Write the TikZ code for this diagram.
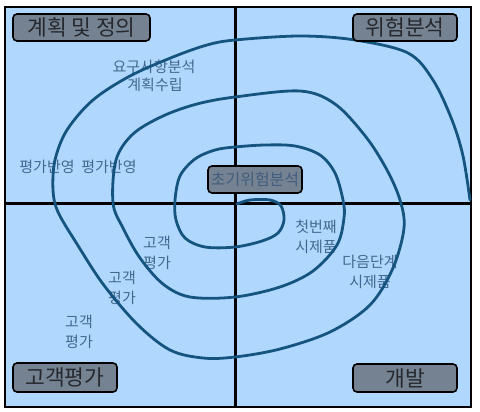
\documentclass[tikz,border=0pt]{standalone}
\usepackage{fontspec}
\newfontfamily\kr{Noto Sans CJK KR}
\definecolor{bg}{RGB}{176,216,255}
\definecolor{spiralc}{RGB}{22,84,128}
\definecolor{boxfill}{RGB}{116,130,146}
\definecolor{boxtext}{RGB}{38,40,46}
\definecolor{notec}{RGB}{66,104,142}
\definecolor{inntext}{RGB}{66,94,124}
\tikzset{
  phasebox/.style={draw=black, line width=1.6pt, rounded corners=4pt, fill=boxfill,
    text=boxtext, font=\kr\fontsize{21.5}{23}\selectfont, inner sep=0pt, minimum height=27pt},
  startbox/.style={phasebox, text=inntext, font=\kr\fontsize{16}{17}\selectfont},
  note/.style={text=notec, font=\kr\fontsize{15}{20}\selectfont, align=center, inner sep=0pt},
  frameline/.style={draw=black, line width=3pt},
  spiralline/.style={draw=spiralc, line width=2.8pt, line cap=round}
}
\begin{document}
\begin{tikzpicture}[x=1pt,y=-1pt]
\useasboundingbox (0,0) rectangle (480,412);
\fill[white] (0,0) rectangle (480,412);
\filldraw[fill=bg, draw=black, line width=2pt] (5,7) rectangle (471,407);
\draw[frameline] (235,7) -- (235,407);
\draw[frameline] (5,203) -- (471,203);

% notes
\node[note] (n1) at (154,67) {요구사항분석};
\node[note] (n2) at (155,85) {계획수립};
\node[note] (n3) at (78,167) {평가반영\ \ 평가반영};
\node[note] (n4) at (157,253) {고객\\평가};
\node[note] (n5) at (122,288) {고객\\평가};
\node[note] (n6) at (79,332) {고객\\평가};
\node[note] (n7) at (316,237) {첫번째\\시제품};
\node[note] (n8) at (370,272) {다음단계\\시제품};

% spiral
\draw[spiralline] plot[smooth, tension=0.55] coordinates {
 (237,204) (250,200) (270,200) (281,206) (284,220) (278,233) (262,241) (235,247)
 (205,247) (185,238) (176,220) (175,200) (180,176) (195,159) (215,150) (235,147)
 (265,145) (295,146) (320,155) (335,173) (343,200)
 (344,218) (337,245) (313,271) (280,287) (235,297)
 (190,297) (163,284) (140,258) (123,228) (113,203)
 (116,160) (133,134) (163,116) (197,104) (235,97)
 (300,91) (335,104) (366,137) (387,170) (400,200)
 (404,228) (393,268) (370,305) (330,332) (280,349) (235,357)
 (203,358) (170,350) (137,324) (103,284) (77,244) (58,212) (53,190)
 (55,160) (67,130) (93,100) (130,76) (173,57) (207,45) (235,40)
 (300,36) (355,40) (408,53) (433,80) (452,120) (463,156) (470,200)
};

% phase boxes
\node[phasebox, minimum width=137pt] (plan) at (81.5,27.5) {계획 및 정의};
\node[phasebox, minimum width=104pt] (risk) at (405,27.5) {위험분석};
\node[phasebox, minimum width=104pt, minimum height=29pt] (eval) at (65,377.5) {고객평가};
\node[phasebox, minimum width=104pt, minimum height=28pt] (dev) at (405,378) {개발};
\node[startbox, minimum width=94pt] (init) at (255,179.5) {초기위험분석};
\end{tikzpicture}
\end{document}
